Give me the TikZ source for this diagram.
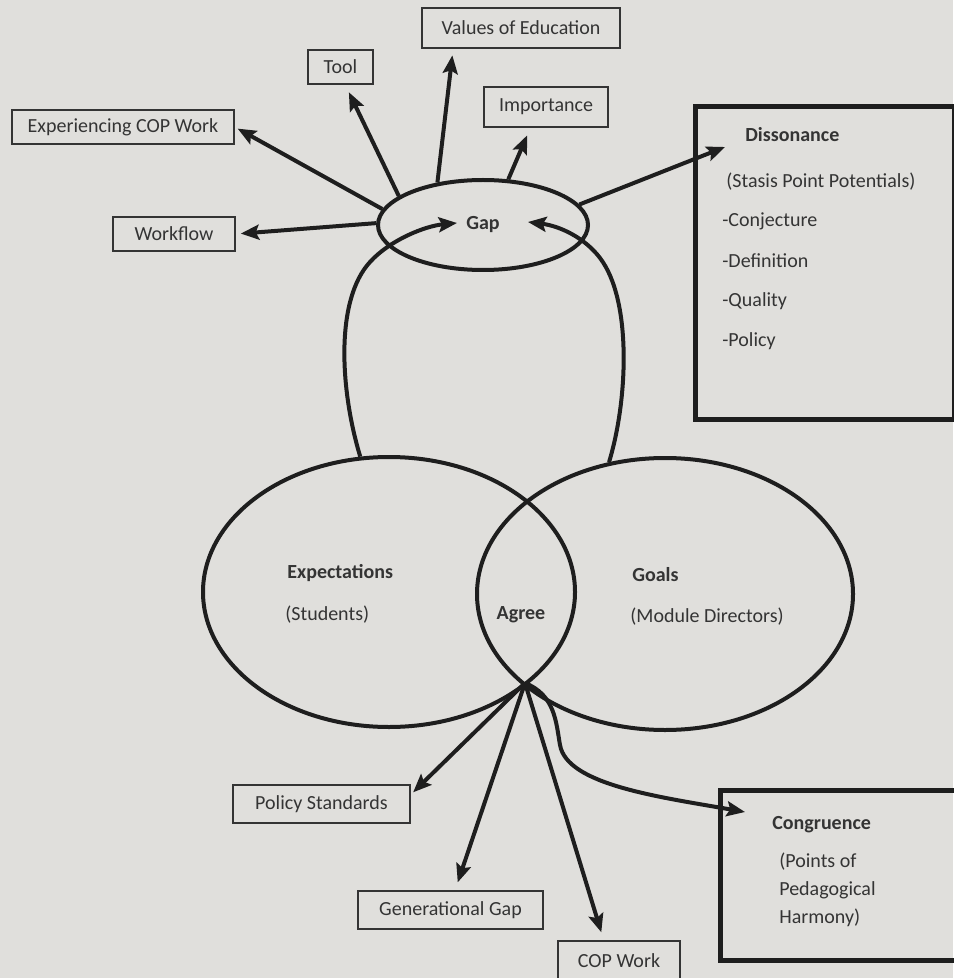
\documentclass[tikz,border=0pt]{standalone}
\usepackage{fontspec}
\setmainfont{Carlito}
\usetikzlibrary{arrows.meta,shapes.geometric,positioning,calc}
\newlength\pxlen
\setlength\pxlen{0.6pt}
\definecolor{paper}{RGB}{224,223,220}
\definecolor{ink}{RGB}{30,30,30}
\definecolor{txtgray}{RGB}{52,52,52}
\newcommand\bodyfont{\fontsize{12}{14.4}\selectfont}
\tikzset{
  tagbox/.style args = {#1/#2}{draw=txtgray, line width=0.9pt, text=txtgray,
                        inner sep=0pt, font=\bodyfont,
                        minimum width=#1\pxlen, minimum height=#2\pxlen},
  bigbox/.style = {draw=ink, line width=3pt, inner sep=0pt, anchor=north west},
  ring/.style = {ellipse, draw=ink, line width=2.4pt, inner sep=0pt, text=txtgray},
  txt/.style = {text=txtgray, inner sep=0pt, font=\bodyfont},
  ttl/.style = {text=txtgray, inner sep=0pt, font=\bodyfont\bfseries},
  arr/.style = {draw=ink, line width=2.4pt,
                -{Stealth[length=11pt,width=9pt,inset=2pt]}}
}

\begin{document}
\begin{tikzpicture}[x=0.6pt,y=-0.6pt]
  \fill[paper] (0,0) rectangle (953,978);
  \useasboundingbox (0,0) rectangle (953,978);

  \node[ring, minimum width=372\pxlen, minimum height=270\pxlen] (expect) at (389,592) {};
  \node[ring, minimum width=376\pxlen, minimum height=272\pxlen] (goals) at (665,594) {};
  \node[ring, minimum width=210\pxlen, minimum height=90\pxlen, font=\bodyfont\bfseries] (gap) at (483,225) {Gap};

  \node[tagbox={222/34}] (expcop) at (123,127) {Experiencing COP Work};
  \node[tagbox={65/34}] (tool) at (340.5,67) {Tool};
  \node[tagbox={198/40}] (values) at (521,28) {Values of Education};
  \node[tagbox={124/40}] (importance) at (546,107) {Importance};
  \node[tagbox={122/34}] (workflow) at (174,234) {Workflow};
  \node[tagbox={177/38}] (policy) at (321.5,804) {Policy Standards};
  \node[tagbox={185/38}] (gengap) at (450.5,910) {Generational Gap};
  \node[tagbox={122/39}] (copwork) at (619,960.5) {COP Work};

  \node[bigbox, minimum width=259\pxlen, minimum height=313\pxlen] (diss) at (693,104) {};
  \node[ttl, anchor=west] (disstitle) at (745,135) {Dissonance};
  \node[txt, anchor=west] (stasis) at (726,182) {(Stasis Point Potentials)};
  \foreach \t [count=\i] in {Conjecture,Definition,Quality,Policy}
    \node[txt, anchor=west] (stasis\i) at (722,181+40*\i) {-\t};

  \node[bigbox, minimum width=240\pxlen, minimum height=170\pxlen] (cong) at (718,788) {};
  \node[ttl, anchor=west] (congtitle) at (772,825) {Congruence};
  \node[txt, anchor=west, align=left, font=\fontsize{12}{16.8}\selectfont] (harmony) at (779,890)
    {(Points of\\Pedagogical\\Harmony)};

  \node[ttl, anchor=west] (expecttitle) at (287,573) {Expectations};
  \node[txt, anchor=west] (students) at (285,615) {(Students)};
  \node[ttl] (agree) at (521,615) {Agree};
  \node[ttl, anchor=west] (goalstitle) at (632,575) {Goals};
  \node[txt, anchor=west] (directors) at (630,617) {(Module Directors)};

  \coordinate (agreept) at (525,683);
  \coordinate (gapleft) at (457,223);
  \coordinate (gapright) at (528,222);
  \coordinate (disstip) at (725,147);
  \coordinate (congtip) at (745,812);

  \draw[arr, shorten >=3pt] (gap.179) -- (workflow.east);
  \draw[arr, shorten >=2pt] (gap.171) -- (expcop.east);
  \draw[arr, shorten >=5pt] (gap.161) -- (tool.285);
  \draw[arr, shorten >=4pt] (gap.137) -- (values.197);
  \draw[arr, shorten >=5pt] (gap.61) -- (importance.233);
  \draw[arr] (gap.12) -- (disstip);

  \draw[arr] (expect.102) .. controls (340,390) and (335,300) .. (370,262)
             .. controls (390,240) and (425,226) .. (gapleft);
  \draw[arr] (goals.113) .. controls (628,400) and (632,300) .. (600,258)
             .. controls (585,238) and (560,226) .. (gapright);

  \draw[arr, shorten >=2pt] (agreept) -- (policy.6);
  \draw[arr, shorten >=5pt] (agreept) -- (gengap.77);
  \draw[arr, shorten >=5pt] (agreept) -- (copwork.127);
  \draw[arr] (agreept) .. controls (555,695) and (556,722) .. (560,745)
             .. controls (567,785) and (660,797) .. (congtip);
\end{tikzpicture}
\end{document}
